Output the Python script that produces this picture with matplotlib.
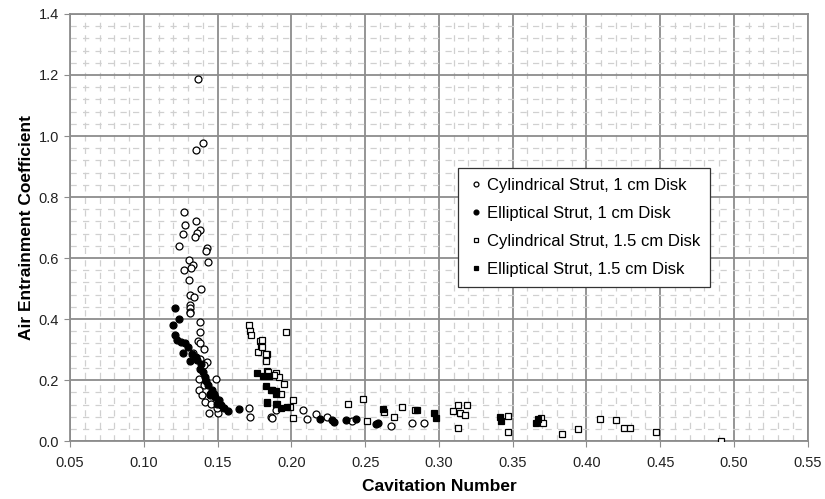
import numpy as np
import matplotlib.pyplot as plt
from matplotlib.ticker import MultipleLocator

plt.rcParams['font.family'] = ['Liberation Sans', 'DejaVu Sans']

# Cylindrical Strut, 1 cm Disk (open circles)
cyl1_x = [0.1368, 0.1399, 0.1354, 0.1270, 0.1351, 0.1281, 0.1379, 0.1360, 0.1263,
          0.1345, 0.1238, 0.1429, 0.1421, 0.1304, 0.1433, 0.1333, 0.1320, 0.1270,
          0.1308, 0.1388, 0.1313, 0.1342, 0.1315, 0.1315, 0.1310, 0.1315, 0.1378,
          0.1378, 0.1368, 0.1383, 0.1410, 0.1336, 0.1383, 0.1429, 0.1410, 0.1376,
          0.1492, 0.1406, 0.1372, 0.1395, 0.1446, 0.1412, 0.1458, 0.1440, 0.1503,
          0.1497, 0.1714, 0.1718, 0.1859, 0.1870, 0.1893, 0.2081, 0.2103, 0.2164,
          0.2244, 0.2413, 0.2674, 0.2821, 0.2896]
cyl1_y = [1.187, 0.977, 0.953, 0.751, 0.722, 0.709, 0.691, 0.683, 0.680,
          0.668, 0.638, 0.633, 0.624, 0.594, 0.586, 0.577, 0.569, 0.560,
          0.528, 0.498, 0.478, 0.472, 0.445, 0.435, 0.423, 0.421, 0.390,
          0.357, 0.327, 0.322, 0.302, 0.288, 0.268, 0.260, 0.251, 0.204,
          0.202, 0.185, 0.167, 0.151, 0.153, 0.129, 0.121, 0.091, 0.091,
          0.107, 0.107, 0.080, 0.080, 0.077, 0.102, 0.102, 0.074, 0.089,
          0.080, 0.067, 0.050, 0.058, 0.061]

# Elliptical Strut, 1 cm Disk (filled circles)
ell1_x = [0.1213, 0.1240, 0.1198, 0.1213, 0.1225, 0.1252, 0.1281, 0.1300, 0.1263,
          0.1326, 0.1350, 0.1315, 0.1360, 0.1390, 0.1383, 0.1399, 0.1412, 0.1422,
          0.1435, 0.1463, 0.1474, 0.1451, 0.1485, 0.1508, 0.1497, 0.1526, 0.1542,
          0.1569, 0.1644, 0.2194, 0.2277, 0.2289, 0.2368, 0.2436, 0.2572, 0.2588]
ell1_y = [0.436, 0.401, 0.380, 0.348, 0.331, 0.326, 0.320, 0.307, 0.288,
          0.284, 0.276, 0.263, 0.266, 0.252, 0.238, 0.227, 0.211, 0.198,
          0.184, 0.169, 0.156, 0.151, 0.145, 0.134, 0.121, 0.118, 0.110,
          0.098, 0.104, 0.071, 0.069, 0.063, 0.069, 0.073, 0.056, 0.058]

# Cylindrical Strut, 1.5 cm Disk (open squares)
cyl15_x = [0.1711, 0.1718, 0.1727, 0.1786, 0.1797, 0.1772, 0.1832, 0.1825, 0.1836,
           0.1893, 0.1915, 0.1965, 0.1802, 0.1802, 0.1829, 0.1829, 0.1840, 0.1881,
           0.1949, 0.1927, 0.2010, 0.1990, 0.2010, 0.2386, 0.2486, 0.2629, 0.2749,
           0.2696, 0.2511, 0.2837, 0.3093, 0.3127, 0.3131, 0.3190, 0.3145, 0.3179,
           0.3467, 0.3467, 0.3693, 0.3704, 0.3833, 0.3946, 0.4089, 0.4202, 0.4254,
           0.4297, 0.4470, 0.4911]
cyl15_y = [0.380, 0.362, 0.348, 0.329, 0.311, 0.293, 0.284, 0.268, 0.230,
           0.224, 0.211, 0.356, 0.331, 0.309, 0.284, 0.262, 0.227, 0.216,
           0.186, 0.154, 0.134, 0.112, 0.077, 0.123, 0.138, 0.094, 0.111,
           0.080, 0.066, 0.102, 0.098, 0.118, 0.044, 0.120, 0.091, 0.085,
           0.082, 0.030, 0.077, 0.058, 0.023, 0.039, 0.072, 0.069, 0.044,
           0.044, 0.031, 0.000]

# Elliptical Strut, 1.5 cm Disk (filled squares)
ell15_x = [0.1764, 0.1809, 0.1847, 0.1825, 0.1859, 0.1893, 0.1836, 0.1899, 0.1870,
           0.1893, 0.1832, 0.1904, 0.1927, 0.1972, 0.2622, 0.2851, 0.2968, 0.2980,
           0.3417, 0.3421, 0.3659, 0.3675]
ell15_y = [0.224, 0.213, 0.213, 0.180, 0.169, 0.165, 0.126, 0.121, 0.167,
           0.156, 0.127, 0.123, 0.107, 0.112, 0.105, 0.102, 0.091, 0.077,
           0.080, 0.066, 0.058, 0.071]

fig = plt.figure(figsize=(8.25, 4.99), dpi=100)
ax = fig.add_axes([0.085, 0.116, 0.894, 0.856])

ms = 5
ax.plot(cyl1_x, cyl1_y, 'o', mfc='white', mec='black', mew=0.9, ms=ms,
        label='Cylindrical Strut, 1 cm Disk', zorder=3)
ax.plot(ell1_x, ell1_y, 'o', mfc='black', mec='black', mew=0.9, ms=ms,
        label='Elliptical Strut, 1 cm Disk', zorder=3)
ax.plot(cyl15_x, cyl15_y, 's', mfc='white', mec='black', mew=0.9, ms=ms,
        label='Cylindrical Strut, 1.5 cm Disk', zorder=3)
ax.plot(ell15_x, ell15_y, 's', mfc='black', mec='black', mew=0.9, ms=ms,
        label='Elliptical Strut, 1.5 cm Disk', zorder=3)

ax.set_xlim(0.05, 0.55)
ax.set_ylim(0.0, 1.4)
ax.xaxis.set_major_locator(MultipleLocator(0.05))
ax.xaxis.set_minor_locator(MultipleLocator(0.01))
ax.yaxis.set_major_locator(MultipleLocator(0.2))
ax.yaxis.set_minor_locator(MultipleLocator(0.04))
ax.xaxis.set_major_formatter(plt.FormatStrFormatter('%.2f'))
ax.yaxis.set_major_formatter(plt.FormatStrFormatter('%.1f'))

ax.grid(which='major', color='#8c8c8c', linewidth=1.3)
ax.grid(which='minor', color='#d0d0d0', linewidth=0.9, linestyle=(0, (5, 5)))
ax.set_axisbelow(True)
ax.tick_params(which='minor', length=0)
ax.tick_params(which='major', direction='out', length=4, color='#8c8c8c',
               labelsize=10.5, labelcolor='#222222')
ax.tick_params(axis='x', pad=7)
ax.tick_params(axis='y', pad=4)
for s in ax.spines.values():
    s.set_color('#8c8c8c')
    s.set_linewidth(1.3)

ax.set_xlabel('Cavitation Number', fontsize=12.5, fontweight='bold', labelpad=6)
ax.set_ylabel('Air Entrainment Coefficient', fontsize=12.5, fontweight='bold', labelpad=3)

leg = ax.legend(loc='upper left', bbox_to_anchor=(0.5257, 0.639), fontsize=12,
                frameon=True, fancybox=False, edgecolor='#333333', framealpha=1,
                handletextpad=0.15, handlelength=1.0, markerscale=0.7,
                labelspacing=0.78, borderpad=0.6, borderaxespad=0)
leg.get_frame().set_linewidth(0.9)

fig.savefig('out.png', dpi=100)
